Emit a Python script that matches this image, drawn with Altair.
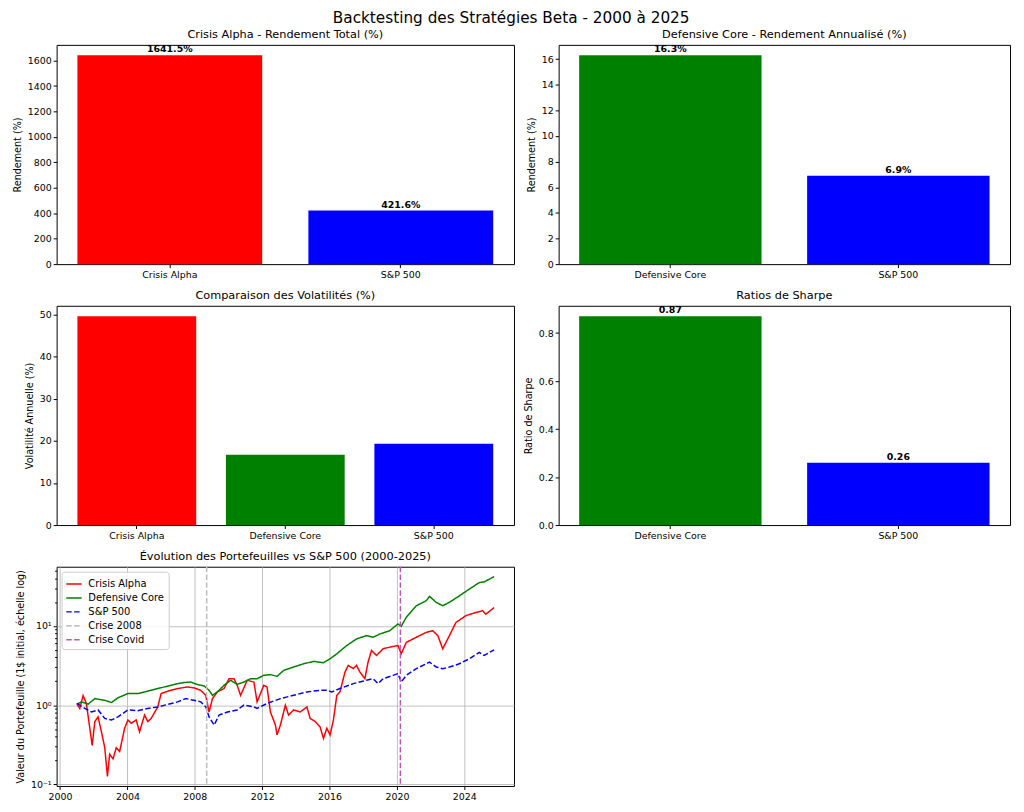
import altair as alt
import pandas as pd

FONT = "DejaVu Sans"
RED, GREEN, BLUE = "#ff0000", "#008000", "#0000ff"

# ---- Panel 1: total return ----
p1_cats = ["Crisis Alpha", "S&P 500"]
p1_vals = [1641.5, 421.6]
# ---- Panel 2: annualised return ----
p2_cats = ["Defensive Core", "S&P 500"]
p2_vals = [16.3, 6.9]
# ---- Panel 3: volatility ----
p3_cats = ["Crisis Alpha", "Defensive Core", "S&P 500"]
p3_vals = [49.6, 16.7, 19.3]
# ---- Panel 4: Sharpe ----
p4_cats = ["Defensive Core", "S&P 500"]
p4_vals = [0.87, 0.26]

# ---- Panel 5: portfolio evolution ----
ca_dates = ["2001-01-01", "2001-03-05", "2001-05-15", "2001-07-25", "2001-10-08", "2001-11-28",
            "2002-01-25", "2002-04-05", "2002-06-17", "2002-08-28", "2002-10-25", "2002-12-12",
            "2003-02-24", "2003-05-05", "2003-07-16", "2003-11-02", "2004-01-12", "2004-03-25",
            "2004-07-09", "2004-09-20", "2005-01-07", "2005-03-18", "2005-05-30", "2005-10-20",
            "2006-01-01", "2006-05-23", "2006-12-24", "2007-07-27", "2007-12-20", "2008-05-10",
            "2008-08-25", "2008-11-06", "2009-01-18", "2009-05-05", "2009-09-26", "2010-01-12",
            "2010-04-30", "2010-07-08", "2010-09-20", "2011-02-10", "2011-07-05", "2011-09-13",
            "2011-11-25", "2012-02-05", "2012-04-15", "2012-06-28", "2012-10-15", "2012-11-18",
            "2013-01-30", "2013-05-18", "2013-07-26", "2013-11-13", "2014-04-05", "2014-08-28",
            "2014-11-06", "2015-02-24", "2015-06-10", "2015-08-22", "2015-11-03", "2016-01-12",
            "2016-03-25", "2016-06-06", "2016-08-14", "2016-12-01", "2017-02-10", "2017-05-30",
            "2017-08-08", "2017-10-20", "2018-02-05", "2018-04-15", "2018-06-28", "2018-10-15",
            "2019-03-07", "2019-07-27", "2020-01-23", "2020-04-03", "2020-07-22", "2021-02-24",
            "2021-09-26", "2022-02-17", "2022-06-06", "2022-09-20", "2023-01-07", "2023-07-05",
            "2024-02-05", "2024-09-08", "2025-01-30", "2025-04-12", "2025-10-08"]
ca_vals = [1.03, 0.91, 1.32, 1.05, 0.51, 0.31,
           0.62, 0.71, 0.46, 0.29, 0.126, 0.24,
           0.21, 0.29, 0.26, 0.51, 0.65, 0.59,
           0.65, 0.46, 0.75, 0.62, 0.68, 0.95,
           1.40, 1.50, 1.62, 1.70, 1.65, 1.54,
           1.33, 0.82, 1.21, 1.47, 1.62, 2.16,
           2.16, 1.78, 1.33, 2.06, 1.96, 1.10,
           1.40, 1.78, 1.70, 0.82, 0.56, 0.42,
           0.56, 1.00, 0.75, 0.87, 0.82, 0.95,
           0.68, 0.62, 0.53, 0.38, 0.51, 0.42,
           0.65, 1.33, 1.47, 2.62, 3.18, 2.89,
           3.18, 2.62, 2.16, 3.50, 4.90, 4.24,
           5.15, 5.40, 5.66, 4.45, 6.20, 7.20,
           8.30, 8.70, 7.55, 5.15, 6.86, 11.1,
           13.5, 14.8, 15.6, 14.1, 17.1]

dc_dates = ["2001-01-01", "2001-04-12", "2001-09-01", "2002-01-25", "2002-08-28", "2003-01-20",
            "2003-06-10", "2004-01-12", "2004-08-15", "2005-01-07", "2005-10-20", "2006-08-03",
            "2006-12-24", "2007-05-18", "2007-10-08", "2008-02-28", "2008-07-22", "2008-11-06",
            "2009-01-18", "2009-05-05", "2009-09-26", "2010-02-17", "2010-07-08", "2010-12-01",
            "2011-04-23", "2011-09-13", "2012-02-05", "2012-06-28", "2012-11-20", "2013-04-12",
            "2013-11-13", "2014-06-17", "2015-01-20", "2015-08-22", "2016-01-12", "2016-06-06",
            "2017-01-07", "2017-08-08", "2018-03-13", "2018-08-03", "2018-12-24", "2019-07-27",
            "2020-01-23", "2020-04-03", "2020-07-22", "2021-02-24", "2021-09-26", "2021-12-08",
            "2022-05-01", "2022-09-20", "2023-02-12", "2023-09-15", "2024-04-18", "2024-11-20",
            "2025-03-07", "2025-10-08"]
dc_vals = [1.03, 1.10, 1.03, 1.21, 1.15, 1.08,
           1.24, 1.40, 1.40, 1.47, 1.62, 1.78,
           1.87, 1.93, 1.96, 1.82, 1.75, 1.54,
           1.33, 1.47, 1.78, 2.06, 1.83, 1.96,
           2.16, 2.16, 2.38, 2.43, 2.31, 2.75,
           3.03, 3.33, 3.57, 3.43, 3.85, 4.45,
           5.66, 6.86, 7.55, 7.20, 7.90, 8.70,
           10.6, 9.9, 12.9, 18.0, 20.8, 23.6,
           19.9, 18.0, 19.9, 24.0, 29.2, 35.3,
           36.0, 42.0]

sp_dates = ["2001-01-01", "2001-06-23", "2001-11-13", "2002-04-05", "2002-08-28", "2003-01-20",
            "2003-06-10", "2004-01-12", "2004-08-15", "2005-03-18", "2005-10-20", "2006-05-23",
            "2006-12-24", "2007-06-23", "2007-11-13", "2008-05-10", "2008-08-28", "2008-11-06",
            "2009-02-24", "2009-06-10", "2009-12-08", "2010-07-08", "2010-12-01", "2011-07-05",
            "2011-09-13", "2012-04-15", "2013-01-30", "2013-11-13", "2014-08-28", "2015-06-10",
            "2015-11-03", "2016-02-17", "2016-08-14", "2017-05-30", "2018-03-13", "2018-08-03",
            "2018-11-20", "2019-03-07", "2019-10-08", "2020-01-23", "2020-04-03", "2020-07-22",
            "2021-02-24", "2021-12-08", "2022-05-01", "2022-09-20", "2023-02-12", "2023-09-15",
            "2024-04-18", "2024-11-20", "2025-03-07", "2025-10-08"]
sp_vals = [1.05, 0.91, 0.82, 0.87, 0.68, 0.65,
           0.71, 0.87, 0.85, 0.91, 0.95, 1.02,
           1.10, 1.21, 1.16, 1.10, 0.95, 0.71,
           0.56, 0.75, 0.82, 0.87, 1.00, 0.95,
           0.91, 1.05, 1.21, 1.33, 1.47, 1.54,
           1.54, 1.47, 1.62, 1.87, 2.06, 2.16,
           1.87, 2.16, 2.38, 2.50, 1.96, 2.38,
           2.89, 3.50, 3.03, 2.89, 3.03, 3.33,
           3.85, 4.65, 4.24, 5.00]

crisis_names = ["Crise 2008", "Crise Covid"]
crisis_dates = ["2008-09-15", "2020-03-16"]

series_names = ["Crisis Alpha", "Defensive Core", "S&P 500", "Crise 2008", "Crise Covid"]
series_colors = [RED, GREEN, BLUE, "#bdbdbd", "#b45ab4"]
series_dash = [[1, 0], [1, 0], [5.5, 2.4], [5.5, 2.4], [5.5, 2.4]]

TL_W, TR_W, ROW_H = 461, 455, 221


def bar_panel(cats, vals, colors, labels, title, ytitle, ymax, ticks, width, pad_outer, fmt):
    df = pd.DataFrame({"cat": cats, "val": vals})
    x = alt.X("cat:N", sort=cats, title=None,
              scale=alt.Scale(paddingInner=0.2, paddingOuter=pad_outer),
              axis=alt.Axis(labelAngle=0, grid=False))
    y = alt.Y("val:Q", title=ytitle,
              scale=alt.Scale(domain=[0, ymax], nice=False, zero=True),
              axis=alt.Axis(values=ticks, grid=False, format=fmt))
    bars = alt.Chart(df).mark_bar().encode(
        x=x, y=y,
        color=alt.Color("cat:N", scale=alt.Scale(domain=cats, range=colors), legend=None),
    )
    layers = [bars]
    if labels is not None:
        df["lab"] = labels
        txt = alt.Chart(df).mark_text(baseline="bottom", dy=-1, fontWeight="bold",
                                      fontSize=9.5, font=FONT, color="black").encode(
            x=x, y=y, text="lab:N")
        layers.append(txt)
    return alt.layer(*layers).properties(width=width, height=ROW_H, title=title)


p1 = bar_panel(p1_cats, p1_vals, [RED, BLUE], [f"{v:.1f}%" for v in p1_vals],
               "Crisis Alpha - Rendement Total (%)", "Rendement (%)", 1723.6,
               list(range(0, 1601, 200)), TL_W, 0.09, "d")
p2 = bar_panel(p2_cats, p2_vals, [GREEN, BLUE], [f"{v:.1f}%" for v in p2_vals],
               "Defensive Core - Rendement Annualisé (%)", "Rendement (%)", 17.115,
               list(range(0, 17, 2)), TR_W, 0.09, "d")
p3 = bar_panel(p3_cats, p3_vals, [RED, GREEN, BLUE], None,
               "Comparaison des Volatilités (%)", "Volatilité Annuelle (%)", 52.08,
               [0, 10, 20, 30, 40, 50], TL_W, 0.14, "d")
p4 = bar_panel(p4_cats, p4_vals, [GREEN, BLUE], [f"{v:.2f}" for v in p4_vals],
               "Ratios de Sharpe", "Ratio de Sharpe", 0.9135,
               [0.0, 0.2, 0.4, 0.6, 0.8], TR_W, 0.09, ".1f")

# ---- line panel ----
frames = []
for name, d, v in [("Crisis Alpha", ca_dates, ca_vals),
                   ("Defensive Core", dc_dates, dc_vals),
                   ("S&P 500", sp_dates, sp_vals)]:
    frames.append(pd.DataFrame({"date": d, "val": v, "series": name}))
line_df = pd.concat(frames, ignore_index=True)
rule_df = pd.DataFrame({"date": crisis_dates, "series": crisis_names})

color_enc = alt.Color("series:N", title=None,
                      scale=alt.Scale(domain=series_names, range=series_colors),
                      legend=alt.Legend(orient="top-left", offset=5, symbolType="stroke",
                                        symbolSize=240, symbolStrokeWidth=1.5,
                                        labelFontSize=10, labelFont=FONT,
                                        fillColor="rgba(255,255,255,0.85)",
                                        strokeColor="#cccccc", cornerRadius=3,
                                        padding=4, rowPadding=0, labelOffset=6,
                                        labelColor="#000"))
dash_enc = alt.StrokeDash("series:N", title=None,
                          scale=alt.Scale(domain=series_names, range=series_dash),
                          legend=alt.Legend(orient="top-left"))

major_test = "abs(log(datum.value)/LN10 - round(log(datum.value)/LN10)) < 0.001"
y_ticks = [0.1, 0.2, 0.3, 0.4, 0.5, 0.6, 0.7, 0.8, 0.9,
           1, 2, 3, 4, 5, 6, 7, 8, 9, 10, 20, 30, 40, 50]
x_enc = alt.X("date:T", title=None,
              scale=alt.Scale(domain=[alt.DateTime(year=1999, month=10, date=19),
                                      alt.DateTime(year=2026, month=12, date=13)]),
              axis=alt.Axis(values=[alt.DateTime(year=y, month=1, date=1)
                                    for y in range(2000, 2025, 4)],
                            format="%Y", grid=True, gridColor="#b0b0b0", gridWidth=0.8,
                            labelAngle=0))
y_enc = alt.Y("val:Q", title="Valeur du Portefeuille (1$ initial, échelle log)",
              scale=alt.Scale(type="log", domain=[0.0953, 56], nice=False),
              axis=alt.Axis(values=y_ticks,
                            labelExpr=("datum.value < 0.15 ? '10⁻¹' : "
                                       "(datum.value > 0.95 && datum.value < 1.05) ? '10⁰' : "
                                       "(datum.value > 9.5 && datum.value < 10.5) ? '10¹' : ''"),
                            grid=True, gridColor="#b0b0b0", gridWidth=0.8,
                            gridOpacity={"condition": {"test": major_test, "value": 1}, "value": 0},
                            tickSize={"condition": {"test": major_test, "value": 3.5}, "value": 2}))

lines = alt.Chart(line_df).mark_line(strokeWidth=1.5, clip=True).encode(
    x=x_enc, y=y_enc, color=color_enc, strokeDash=dash_enc, order=alt.Order("date:T"))
rules = alt.Chart(rule_df).mark_rule(strokeWidth=1.5).encode(
    x=alt.X("date:T"), color=alt.Color("series:N"), strokeDash=alt.StrokeDash("series:N"))

p5 = alt.layer(lines, rules).properties(
    width=TL_W, height=ROW_H, title="Évolution des Portefeuilles vs S&P 500 (2000-2025)")

chart = alt.concat(p1, p2, p3, p4, p5, columns=2, spacing={"row": 42, "column": 45},
                   bounds="flush").resolve_scale(
    color="independent", strokeDash="independent").properties(
    title=alt.TitleParams("Backtesting des Stratégies Beta - 2000 à 2025", fontSize=15.4,
                          font=FONT, fontWeight="normal", anchor="middle", offset=2,
                          color="#000"),
    padding={"left": 3, "top": 0, "right": 5, "bottom": 0},
).configure(font=FONT).configure_view(stroke="black", strokeWidth=1).configure_axis(
    labelFont=FONT, titleFont=FONT, labelFontSize=9.5, titleFontSize=9.7,
    titleFontWeight="normal", labelColor="#000", titleColor="#000",
    tickColor="#000", tickSize=3.5, domain=False, labelPadding=2, titlePadding=5,
).configure_title(font=FONT, fontSize=11.4, fontWeight="normal", color="#000", offset=4)

chart.save("out.html", embed_options={"renderer": "svg", "actions": False})
